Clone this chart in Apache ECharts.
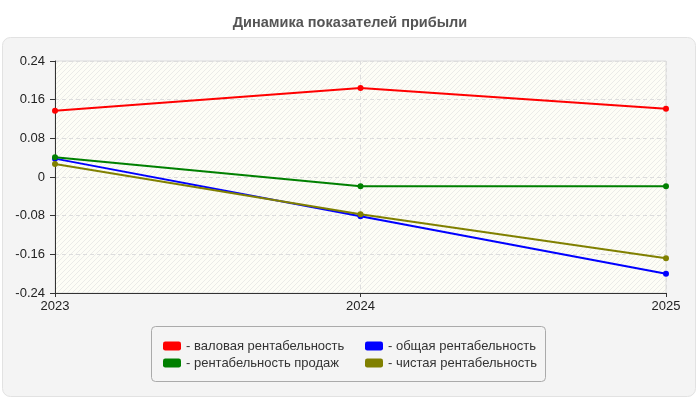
<!DOCTYPE html>
<html>
<head>
<meta charset="utf-8">
<script src="https://cdn.jsdelivr.net/npm/echarts@6/dist/echarts.min.js"></script>
<style>
html, body { margin: 0; padding: 0; background: #fff; }
#chart { width: 700px; height: 400px; }
</style>
</head>
<body>
<div id="chart"></div>
<script>
var years = ['2023', '2024', '2025'];
var valovaya = [0.137, 0.184, 0.141];
var prodazh = [0.041, -0.019, -0.019];
var obshaya = [0.038, -0.081, -0.200];
var chistaya = [0.027, -0.077, -0.168];
var yTicks = { min: -0.24, max: 0.24, step: 0.08 };

// штриховка фона области графика
function hatch() {
	var c = document.createElement('canvas');
	c.width = 5; c.height = 5;
	var ctx = c.getContext('2d');
	ctx.fillStyle = '#fdfdf6';
	ctx.fillRect(0, 0, 5, 5);
	ctx.strokeStyle = '#ebebe8';
	ctx.lineWidth = 1;
	ctx.beginPath();
	ctx.moveTo(-1, 6); ctx.lineTo(6, -1);
	ctx.stroke();
	return { image: c, repeat: 'repeat' };
}

function mkSeries(name, data, color) {
	return {
		name: name,
		type: 'line',
		data: data,
		symbol: 'circle',
		symbolSize: 6,
		lineStyle: { width: 2, color: color },
		itemStyle: { color: color },
		emphasis: { disabled: true }
	};
}

var legendText = { fontFamily: 'Liberation Sans, Arial', fontSize: 13, color: '#333', lineHeight: 14 };

var myChart = echarts.init(document.getElementById('chart'));
var option = {
	animation: false,
	backgroundColor: '#fff',
	title: {
		text: 'Динамика показателей прибыли',
		left: 'center',
		top: 10,
		textStyle: { fontFamily: 'Liberation Sans, Arial', fontWeight: 'bold', fontSize: 14.5, color: '#555' }
	},
	graphic: [
		{ type: 'rect', z: -10, shape: { x: 2.5, y: 37.5, width: 693, height: 359, r: 8 },
		  style: { fill: '#f4f4f4', stroke: '#e2e2e2', lineWidth: 1 } },
		{ type: 'rect', z: -5, shape: { x: 151.5, y: 326.5, width: 394, height: 55, r: 4 },
		  style: { fill: '#f4f4f4', stroke: '#aaaaaa', lineWidth: 1 } }
	],
	legend: [{
		orient: 'vertical',
		left: 158,
		top: 334,
		itemGap: 3,
		itemWidth: 18,
		itemHeight: 9,
		icon: 'roundRect',
		formatter: '- {name}',
		textStyle: legendText,
		data: ['валовая рентабельность', 'рентабельность продаж']
	}, {
		orient: 'vertical',
		left: 360,
		top: 334,
		itemGap: 3,
		itemWidth: 18,
		itemHeight: 9,
		icon: 'roundRect',
		formatter: '- {name}',
		textStyle: legendText,
		data: ['общая рентабельность', 'чистая рентабельность']
	}],
	grid: {
		left: 55,
		right: 34,
		top: 61,
		bottom: 107,
		show: true,
		backgroundColor: hatch(),
		borderColor: '#dddddd',
		borderWidth: 1
	},
	xAxis: {
		type: 'category',
		boundaryGap: false,
		data: years,
		axisLine: { onZero: false, lineStyle: { color: '#333', width: 1 } },
		axisTick: { show: true, length: 4, lineStyle: { color: '#333' } },
		axisLabel: { color: '#222', fontFamily: 'Liberation Sans, Arial', fontSize: 13, margin: 7 },
		splitLine: { show: true, lineStyle: { color: '#dddddd', type: [4, 3] } }
	},
	yAxis: {
		type: 'value',
		min: yTicks.min,
		max: yTicks.max,
		interval: yTicks.step,
		axisLine: { show: true, lineStyle: { color: '#333', width: 1 } },
		axisTick: { show: true, length: 5, lineStyle: { color: '#333' } },
		axisLabel: {
			color: '#222', fontFamily: 'Liberation Sans, Arial', fontSize: 13, margin: 10,
			formatter: function (v) { return String(Math.round(v * 100) / 100); }
		},
		splitLine: { show: true, lineStyle: { color: '#dddddd', type: [4, 3] } }
	},
	series: [
		mkSeries('валовая рентабельность', valovaya, '#ff0000'),
		mkSeries('общая рентабельность', obshaya, '#0000ff'),
		mkSeries('рентабельность продаж', prodazh, '#008000'),
		mkSeries('чистая рентабельность', chistaya, '#808000')
	]
};
myChart.setOption(option);
window.onresize = function(){
	myChart.resize();
}
</script>
</body>
</html>
